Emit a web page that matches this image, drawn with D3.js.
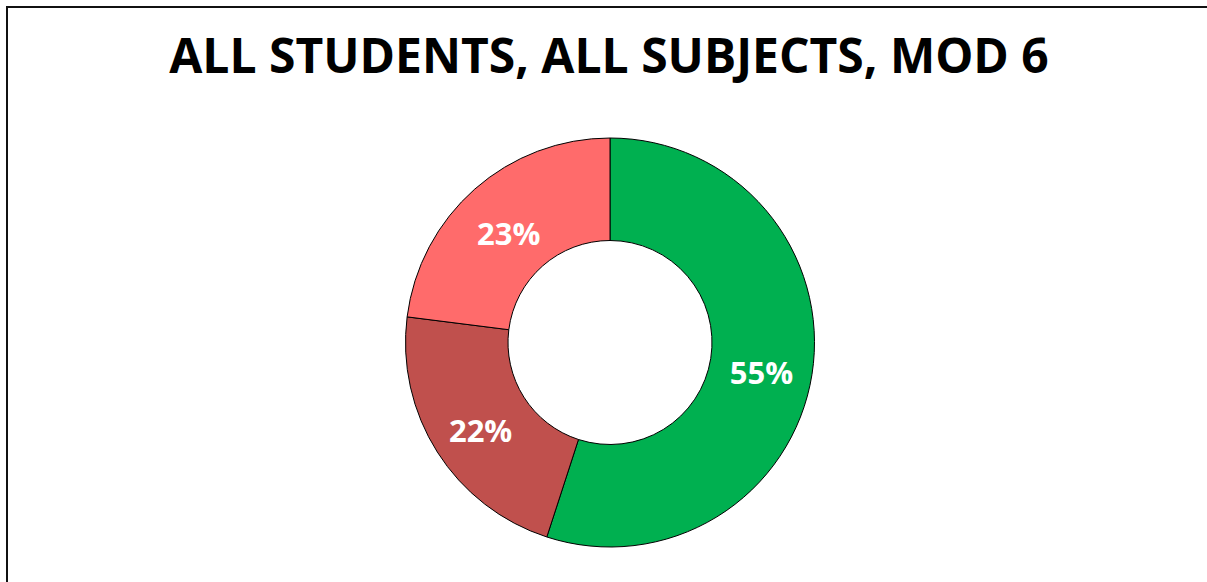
<!DOCTYPE html>
<html>
<head>
<meta charset="utf-8">
<script src="https://cdn.jsdelivr.net/npm/d3@7"></script>
<style>
  body { margin: 0; background: #fff; }
  svg { display: block; }
  .title { font-family: 'Open Sans', sans-serif; font-weight: 700; font-size: 48px; fill: #000; }
  .pct { font-family: 'Open Sans', sans-serif; font-weight: 700; font-size: 31px; fill: #fff; }
</style>
</head>
<body>
<svg id="chart" width="1207" height="582"></svg>
<script>
// data
const categories = ['Green', 'Dark red', 'Light red'];
const shares = [55, 22, 23];
const colours = ['#00b050', '#c0504d', '#ff6b6b'];

const svg = d3.select('#chart');
const width = 1207;
const height = 582;

// frame (top and left edge only, the rest is cut off)
svg.append('path')
  .attr('d', `M7,${height} V7 H${width}`)
  .attr('fill', 'none')
  .attr('stroke', '#111')
  .attr('stroke-width', 2);

svg.append('text')
  .attr('class', 'title')
  .attr('x', 609)
  .attr('y', 73)
  .attr('text-anchor', 'middle')
  .text('ALL STUDENTS, ALL SUBJECTS, MOD 6');

const cx = 610;
const cy = 342.5;
const outer = 204.5;
const inner = 102;

const pie = d3.pie().sort(null).value((d) => d);
const arc = d3.arc().innerRadius(inner).outerRadius(outer);
const labelArc = d3.arc().innerRadius((inner + outer) / 2).outerRadius((inner + outer) / 2);

const chart = svg.append('g')
  .attr('transform', `translate(${cx}, ${cy})`);

const slices = chart.selectAll('.slice')
  .data(pie(shares))
  .enter()
  .append('g')
  .attr('class', 'slice');

slices.append('path')
  .attr('d', arc)
  .attr('fill', (d, i) => colours[i])
  .attr('stroke', '#000')
  .attr('stroke-width', 1);

slices.append('text')
  .attr('class', 'pct')
  .attr('transform', (d) => `translate(${labelArc.centroid(d)})`)
  .attr('dy', '0.55em')
  .attr('text-anchor', 'middle')
  .text((d) => d.data + '%');
</script>
</body>
</html>
